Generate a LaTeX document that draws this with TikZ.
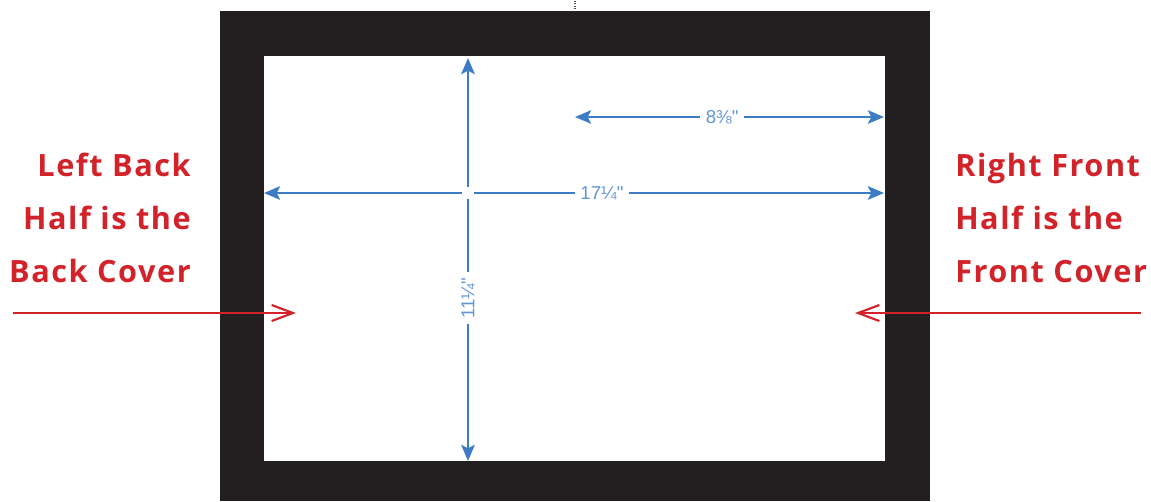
\documentclass[tikz,border=0pt]{standalone}
\usepackage{fontspec}
\usepackage{tikz}
\usetikzlibrary{arrows.meta, positioning, calc}

\newfontfamily\coverfont[LetterSpace=5]{Open Sans}
\newfontfamily\dimfont{Liberation Sans}
\definecolor{framegray}{HTML}{231F20}
\definecolor{coverred}{HTML}{D2232A}
\definecolor{dimblue}{HTML}{3B7CC4}
\definecolor{dimtext}{HTML}{6296D3}

\begin{document}
\begin{tikzpicture}[
    x=0.75pt, y=-0.75pt,
    dimline/.style={dimblue, line width=2.2pt, {Stealth[length=12pt, width=10pt, inset=2.5pt]}-{Stealth[length=12pt, width=10pt, inset=2.5pt]}},
    dimlabel/.style={fill=white, inner xsep=4pt, inner ysep=1pt, text=dimtext, font=\dimfont\fontsize{14}{16}\selectfont},
    covertext/.style={text=coverred, inner sep=0pt, font=\coverfont\bfseries\fontsize{23}{39.75}\selectfont},
    pointer/.style={coverred, line width=1.5pt, -{Straight Barb[length=16pt, width=12pt, line width=1.6pt]}},
]
\useasboundingbox (0,0) rectangle (1151,501);

% Cover spread
\fill[framegray] (220,11) rectangle (930,501);
\fill[white] (264,56) rectangle (885,461);
\draw[black!70, densely dotted, line width=0.8pt] (575,1) -- (575,10);

% Coordinates
\coordinate (spineTop) at (468,58);
\coordinate (spineBot) at (468,461);
\coordinate (spreadL) at (264,193);
\coordinate (spreadR) at (884,193);
\coordinate (halfL) at (575,117);
\coordinate (halfR) at (884,117);

% Dimensions
\draw[dimline] (spineBot) -- node[dimlabel, sloped, pos=0.404] (heightlbl) {11¼"} (spineTop);
\draw[dimline] (spreadL) -- node[dimlabel, pos=0.545] (widthlbl) {17¼"} (spreadR);
\draw[dimline] (halfL) -- node[dimlabel, pos=0.476] (halflbl) {8⅜"} (halfR);
\node[fill=white, minimum size=9pt, inner sep=0pt] (cross) at (468,193) {};

% Labels
\node[covertext, align=right, anchor=base east] (backtxt) at (191,282) {Left Back\\Half is the\\Back Cover};
\node[covertext, align=left, anchor=base west] (fronttxt) at (955,282) {Right Front\\Half is the\\Front Cover};

% Pointers
\coordinate (backTail) at (13,313);
\coordinate (backTip) at (296,313);
\coordinate (frontTail) at (1141,313);
\coordinate (frontTip) at (855,313);
\draw[pointer] (backTail) -- (backTip);
\draw[pointer] (frontTail) -- (frontTip);

\end{tikzpicture}
\end{document}
